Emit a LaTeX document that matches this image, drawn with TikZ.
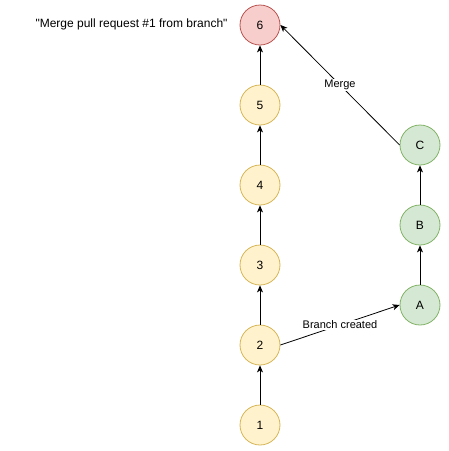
\documentclass[tikz,border=0pt]{standalone}
\usepackage{fontspec}
\setmainfont{Liberation Sans}
\usetikzlibrary{arrows.meta}
\begin{document}
\begin{tikzpicture}[x=1pt,y=-1pt,
  commit/.style={circle,minimum size=40pt,inner sep=0pt,line width=0.8pt,font=\fontsize{12}{14}\selectfont},
  mainline/.style={commit,draw={rgb,255:red,214;green,182;blue,86},fill={rgb,255:red,255;green,242;blue,204}},
  branchline/.style={commit,draw={rgb,255:red,130;green,179;blue,102},fill={rgb,255:red,213;green,232;blue,212}},
  mergecommit/.style={commit,draw={rgb,255:red,184;green,84;blue,80},fill={rgb,255:red,248;green,206;blue,204}},
  link/.style={draw,line width=0.8pt,-{Stealth[length=7pt,width=6pt,inset=2pt]}},
  edgelabel/.style={fill=white,inner sep=1pt,font=\fontsize{11}{13}\selectfont},
  caption/.style={font=\fontsize{12}{14}\selectfont}]
\useasboundingbox (0,0) rectangle (449,451);
% main line commits
\node[mainline] (c1) at (260,425) {1};
\node[mainline] (c2) at (260,345) {2};
\node[mainline] (c3) at (260,265) {3};
\node[mainline] (c4) at (260,185) {4};
\node[mainline] (c5) at (260,105) {5};
\node[mergecommit] (c6) at (260,25) {6};
% branch commits
\node[branchline] (ca) at (420,305) {A};
\node[branchline] (cb) at (420,225) {B};
\node[branchline] (cc) at (420,145) {C};
% merge commit message
\node[caption] (msg) at (131.5,24) {\textquotedbl Merge pull request \#1 from branch\textquotedbl};
% history
\draw[link] (c1) -- (c2);
\draw[link] (c2) -- (c3);
\draw[link] (c3) -- (c4);
\draw[link] (c4) -- (c5);
\draw[link] (c5) -- (c6);
\draw[link] (ca) -- (cb);
\draw[link] (cb) -- (cc);
\draw[link] (c2.east) -- node[edgelabel,pos=0.5] {Branch created} (ca.west);
\draw[link] (cc.west) -- node[edgelabel,pos=0.5] {Merge} (c6.east);
\end{tikzpicture}
\end{document}
